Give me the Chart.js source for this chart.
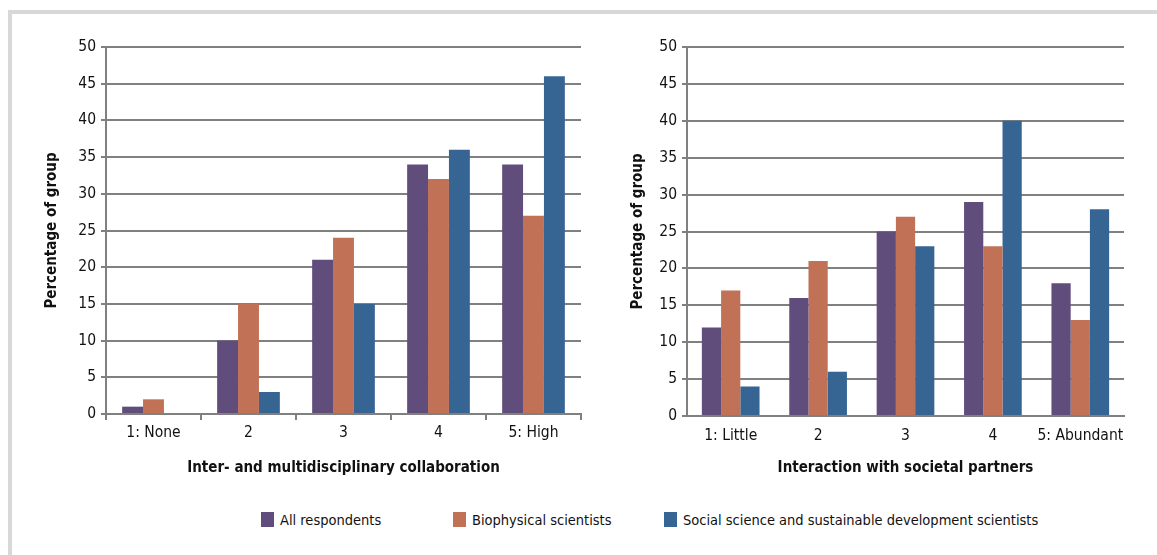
<!DOCTYPE html>
<html>
<head>
<meta charset="utf-8">
<script src="https://cdn.jsdelivr.net/npm/chart.js@4.4.1/dist/chart.umd.min.js"></script>
<style>
  body { margin: 0; background: #fff; width: 1157px; height: 555px; overflow: hidden; position: relative;
         font-family: 'DejaVu Sans Condensed', 'Liberation Sans Narrow', sans-serif; }
  .frame { position: absolute; left: 8px; top: 10px; right: -10px; bottom: -10px;
           border-top: 4px solid #d8d8d8; border-left: 4px solid #d8d8d8; }
  .box { position: absolute; top: 0; height: 490px; }
  #left { left: 0; width: 590px; }
  #right { left: 590px; width: 567px; }
  .legend { position: absolute; top: 512px; font-size: 14.5px; color: #111; white-space: nowrap; }
  .legend i { display: inline-block; width: 13px; height: 15px; vertical-align: -2px; margin-right: 6px; }
</style>
</head>
<body>
<div class="frame"></div>
<div class="box" id="left"><canvas id="chartLeft"></canvas></div>
<div class="box" id="right"><canvas id="chartRight"></canvas></div>
<div class="legend" style="left:261px"><i style="background:#604d7c"></i>All respondents</div>
<div class="legend" style="left:453px"><i style="background:#c07156"></i>Biophysical scientists</div>
<div class="legend" style="left:664px"><i style="background:#366594"></i>Social science and sustainable development scientists</div>
<script>
const seriesNames = ['All respondents', 'Biophysical scientists', 'Social science and sustainable development scientists'];
const seriesColors = ['#604d7c', '#c07156', '#366594'];

const collabLabels = ['1: None', '2', '3', '4', '5: High'];
const collabAll = [1, 10, 21, 34, 34];
const collabBio = [2, 15, 24, 32, 27];
const collabSocial = [0, 3, 15, 36, 46];

const societalLabels = ['1: Little', '2', '3', '4', '5: Abundant'];
const societalAll = [12, 16, 25, 29, 18];
const societalBio = [17, 21, 27, 23, 13];
const societalSocial = [4, 6, 23, 40, 28];

Chart.defaults.font.family = "'DejaVu Sans Condensed', 'Liberation Sans Narrow', sans-serif";
Chart.defaults.font.size = 15.5;
Chart.defaults.color = '#111';

function makeChart(id, labels, values, xTitle, opts) {
    return new Chart(document.getElementById(id), {
        type: 'bar',
        data: {
            labels: labels,
            datasets: values.map((v, i) => ({
                label: seriesNames[i],
                data: v,
                backgroundColor: seriesColors[i],
                borderWidth: 0,
                barPercentage: 1,
                categoryPercentage: 0.66
            }))
        },
        options: {
            responsive: true,
            maintainAspectRatio: false,
            animation: false,
            layout: { padding: opts.padding },
            plugins: { legend: { display: false }, tooltip: { enabled: false } },
            scales: {
                x: {
                    grid: { display: opts.xTicks, drawOnChartArea: false, color: '#808080', lineWidth: 2, tickLength: 6 },
                    border: { color: '#808080', width: 2 },
                    ticks: { padding: opts.xTicks ? 4 : 5, maxRotation: 0, autoSkip: false },
                    title: { display: true, text: xTitle, font: { weight: 'bold', size: 15 }, padding: 0 },
                    afterFit: s => { s.height = opts.xHeight; }
                },
                y: {
                    min: 0, max: 50,
                    ticks: { stepSize: 5, padding: 5 },
                    grid: { color: '#808080', lineWidth: 2, tickLength: 5 },
                    border: { color: '#808080', width: 2 },
                    title: { display: true, text: 'Percentage of group', font: { weight: 'bold', size: 15 }, padding: 0 },
                    afterFit: s => { s.width = opts.yWidth; }
                }
            }
        }
    });
}

makeChart('chartLeft', collabLabels, [collabAll, collabBio, collabSocial],
    'Inter- and multidisciplinary collaboration',
    { padding: { left: 43, top: 47, right: 9, bottom: 13 }, yWidth: 63, xHeight: 63, xTicks: true });

makeChart('chartRight', societalLabels, [societalAll, societalBio, societalSocial],
    'Interaction with societal partners',
    { padding: { left: 39, top: 47, right: 33, bottom: 13 }, yWidth: 58, xHeight: 61, xTicks: false });
</script>
</body>
</html>
